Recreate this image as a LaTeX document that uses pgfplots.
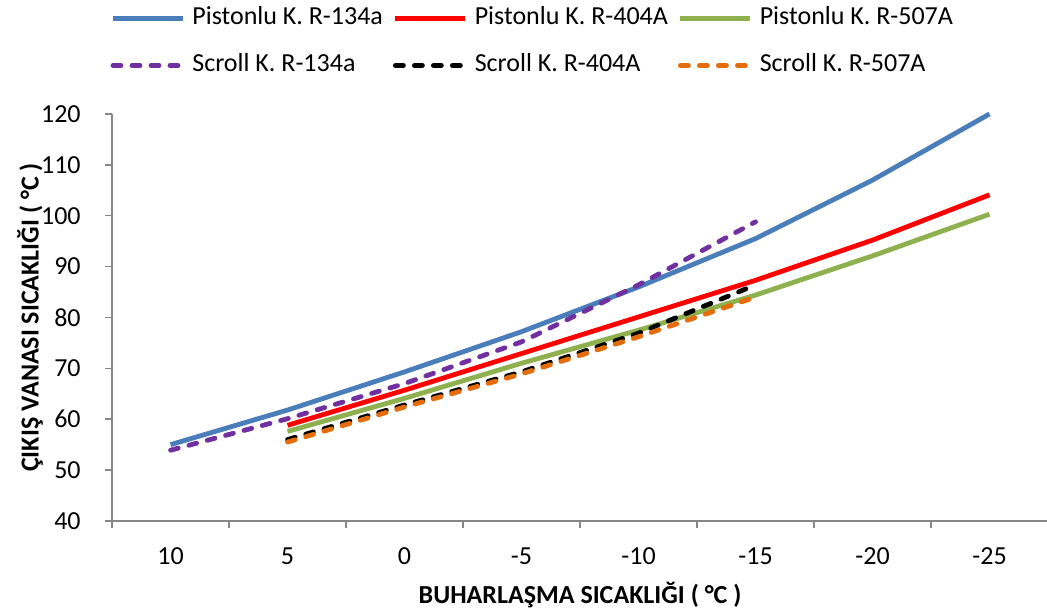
\documentclass[border=0pt]{standalone}
\usepackage{pgfplots}
\pgfplotsset{compat=1.18}
\usepackage{fontspec}
\setmainfont{Carlito}

\definecolor{axgray}{HTML}{868686}
\definecolor{cblue}{HTML}{4A7EBB}
\definecolor{cred}{HTML}{FF0000}
\definecolor{cgreen}{HTML}{8FB04F}
\definecolor{cpurple}{HTML}{7030A0}
\definecolor{corange}{HTML}{E46C0A}

\newcommand{\chfont}{\fontsize{13pt}{15.6pt}\selectfont}

\begin{document}
\begin{tikzpicture}
\begin{axis}[
    scale only axis, width=468pt, height=203.5pt,
    clip=false,
    xmin=-0.5, xmax=7.5, ymin=40, ymax=120,
    axis x line=bottom, axis y line=left,
    axis line style={draw=axgray, line width=0.75pt, -},
    tick align=outside,
    xtick={0,...,7},
    xticklabels={10,5,0,-5,-10,-15,-20,-25},
    major x tick style={draw=none},
    minor xtick={-0.5,0.5,...,7.5},
    minor x tick style={draw=axgray, line width=0.75pt},
    minor tick length=3.5pt,
    ytick={40,50,...,120},
    major y tick style={draw=axgray, line width=0.75pt},
    major tick length=3.5pt,
    /pgf/number format/assume math mode=true,
    tick label style={font=\chfont, inner sep=0pt},
    xticklabel style={anchor=north, yshift=-9.5pt},
    yticklabel style={anchor=east, xshift=-12pt},
    xlabel={\textbf{BUHARLAŞMA SICAKLIĞI ( °C )}},
    ylabel={\textbf{ÇIKIŞ VANASI SICAKLIĞI ( °C )}},
    label style={font=\chfont},
    xlabel style={at={(axis description cs:0.5,-0.182)}, anchor=center, inner sep=0pt},
    ylabel style={at={(axis description cs:-0.0876,0.5)}, anchor=center, rotate=0, inner sep=0pt},
    legend columns=3,
    legend cell align=left,
    legend image code/.code={\draw[#1] (0pt,0pt) -- (35pt,0pt);},
    legend style={draw=none, fill=none, inner sep=0pt, font=\chfont,
        at={(axis description cs:-0.002,1.265)}, anchor=north west,
        row sep=11.5pt,
        nodes={inner sep=0pt, text height=9pt, text depth=3pt},
        /tikz/every odd column/.append style={column sep=3.5pt},
        /tikz/every even column/.append style={column sep=5pt}},
]
\addplot[cblue, line width=2.4pt] coordinates {
    (0,55.0)(1,61.8)(2,69.3)(3,77.2)(4,86.0)(5,95.5)(6,107.0)(7,120.0)};
\addlegendentry{Pistonlu K. R-134a}
\addplot[cred, line width=2.4pt] coordinates {
    (1,58.8)(2,65.7)(3,72.9)(4,80.1)(5,87.3)(6,95.2)(7,104.1)};
\addlegendentry{Pistonlu K. R-404A}
\addplot[cgreen, line width=2.4pt] coordinates {
    (1,57.6)(2,64.1)(3,71.0)(4,77.5)(5,84.4)(6,92.1)(7,100.3)};
\addlegendentry{Pistonlu K. R-507A}
\addplot[cpurple, line width=2.4pt, line cap=round, dash pattern=on 4pt off 5.5pt] coordinates {
    (0,53.9)(1,60.1)(2,67.0)(3,75.2)(4,86.4)(5,98.8)};
\addlegendentry{Scroll K. R-134a}
\addplot[black, line width=2.4pt, line cap=round, dash pattern=on 4pt off 5.5pt] coordinates {
    (1,56.0)(2,62.8)(3,69.3)(4,76.9)(5,86.4)};
\addlegendentry{Scroll K. R-404A}
\addplot[corange, line width=2.4pt, line cap=round, dash pattern=on 4pt off 5.5pt] coordinates {
    (1,55.5)(2,62.4)(3,68.9)(4,76.2)(5,84.0)};
\addlegendentry{Scroll K. R-507A}
\coordinate (bbsw) at (rel axis cs:-0.1197,-0.231);
\coordinate (bbne) at (rel axis cs:0.9989,1.280);
\end{axis}
\pgfresetboundingbox
\useasboundingbox (bbsw) rectangle (bbne);
\end{tikzpicture}
\end{document}
